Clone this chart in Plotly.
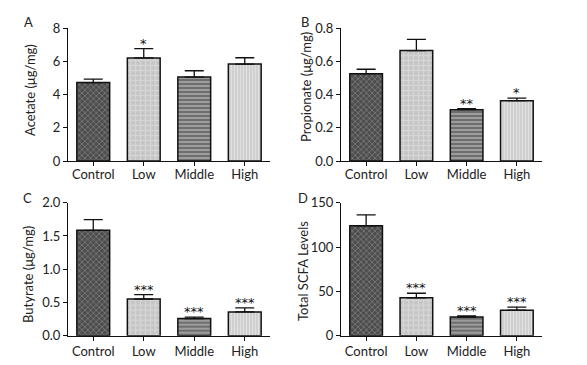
import plotly.graph_objects as go

categories = ["Control", "Low", "Middle", "High"]

acetate = [4.72, 6.2, 5.05, 5.83]
acetate_err = [0.2, 0.56, 0.38, 0.38]
acetate_sig = ["", "*", "", ""]

propionate = [0.525, 0.664, 0.309, 0.363]
propionate_err = [0.027, 0.068, 0.006, 0.015]
propionate_sig = ["", "", "**", "*"]

butyrate = [1.585, 0.552, 0.258, 0.357]
butyrate_err = [0.16, 0.065, 0.022, 0.06]
butyrate_sig = ["", "***", "***", "***"]

total = [124, 42.7, 21, 28.7]
total_err = [12.3, 5.2, 1.2, 3.6]
total_sig = ["", "***", "***", "***"]

panels = [
    dict(label="A", title="Acetate (μg/mg)", vals=acetate, err=acetate_err, sig=acetate_sig,
         rng=[0, 8], dtick=2, fmt="d"),
    dict(label="B", title="Propionate (μg/mg)", vals=propionate, err=propionate_err, sig=propionate_sig,
         rng=[0, 0.8], dtick=0.2, fmt=".1f"),
    dict(label="C", title="Butyrate (μg/mg)", vals=butyrate, err=butyrate_err, sig=butyrate_sig,
         rng=[0, 2.0], dtick=0.5, fmt=".1f"),
    dict(label="D", title="Total SCFA Levels", vals=total, err=total_err, sig=total_sig,
         rng=[0, 150], dtick=50, fmt="d"),
]

W, H = 587, 365
xdoms = [[68 / W, 270 / W], [341 / W, 542 / W]]
ydoms = [[1 - 161 / H, 1 - 28 / H], [1 - 335.7 / H, 1 - 202.7 / H]]
label_pos = [(29, 22), (305, 22), (27, 198), (303, 198)]
title_pos = [(30, 90), (306, 87), (28, 275), (303, 271)]
tick_standoff = [-3, 0]

patterns = [
    dict(shape="x", bgcolor="#4d4d4d", fgcolor="#b0b0b0", size=4, solidity=0.35),
    dict(shape="+", bgcolor="#c4c4c4", fgcolor="#e6e6e6", size=5, solidity=0.5),
    dict(shape="-", bgcolor="#6e6e6e", fgcolor="#f2f2f2", size=4, solidity=0.35),
    dict(shape="|", bgcolor="#cfcfcf", fgcolor="#f4f4f4", size=3, solidity=0.4),
]

FONT = "Lato"
TXT = "#222"
fig = go.Figure()
layout = dict(width=W, height=H, margin=dict(l=0, r=0, t=0, b=0, pad=0, autoexpand=False),
              paper_bgcolor="white", plot_bgcolor="white", showlegend=False,
              font=dict(family=FONT, size=12, color=TXT), bargap=0.35)
annotations = []

for i, p in enumerate(panels):
    n = i + 1
    xa = "x" if n == 1 else f"x{n}"
    ya = "y" if n == 1 else f"y{n}"
    col = i % 2
    row = i // 2
    for j, c in enumerate(categories):
        fig.add_trace(go.Bar(
            x=[c], y=[p["vals"][j]], xaxis=xa, yaxis=ya, width=0.65,
            marker=dict(color=patterns[j]["bgcolor"], pattern=patterns[j],
                        line=dict(color="#111", width=1.5)),
            error_y=dict(type="data", symmetric=False, array=[p["err"][j]], arrayminus=[0],
                         color="#111", thickness=1.3, width=9.5),
        ))
        if p["sig"][j]:
            annotations.append(dict(x=c, y=p["vals"][j] + p["err"][j], xref=xa, yref=ya,
                                    text=p["sig"][j], showarrow=False, yanchor="bottom",
                                    yshift=-4, font=dict(size=13, color="#111", family="DejaVu Sans")))
    axkey = "xaxis" if n == 1 else f"xaxis{n}"
    aykey = "yaxis" if n == 1 else f"yaxis{n}"
    layout[axkey] = dict(domain=xdoms[col], anchor=ya, showline=True, linecolor="#111",
                         linewidth=1.2, ticks="outside", ticklen=4, tickcolor="#111",
                         tickfont=dict(size=13, family=FONT, color=TXT),
                         ticklabelstandoff=tick_standoff[row],
                         range=[-0.5, 3.5], showgrid=False, zeroline=False,
                         categoryorder="array", categoryarray=categories)
    layout[aykey] = dict(domain=ydoms[row], anchor=xa, range=p["rng"], dtick=p["dtick"],
                         tickformat=p["fmt"], showline=True, linecolor="#111", linewidth=1.2,
                         ticks="outside", ticklen=4, tickcolor="#111", showgrid=False,
                         zeroline=False, tickfont=dict(size=13, family=FONT, color=TXT))
    tx, ty = title_pos[i]
    annotations.append(dict(x=tx / W, y=1 - ty / H, xref="paper", yref="paper", text=p["title"],
                            showarrow=False, textangle=-90, xanchor="center", yanchor="middle",
                            font=dict(size=13, family=FONT, color=TXT)))
    lx, ly = label_pos[i]
    annotations.append(dict(x=lx / W, y=1 - ly / H, xref="paper", yref="paper", text=p["label"],
                            showarrow=False, xanchor="center", yanchor="middle",
                            font=dict(size=13, family=FONT, color=TXT)))

layout["annotations"] = annotations
fig.update_layout(**layout)
fig.write_html("out.html", config={"displayModeBar": False},
               post_script="document.body.style.margin='0px';document.body.style.overflow='hidden';")
